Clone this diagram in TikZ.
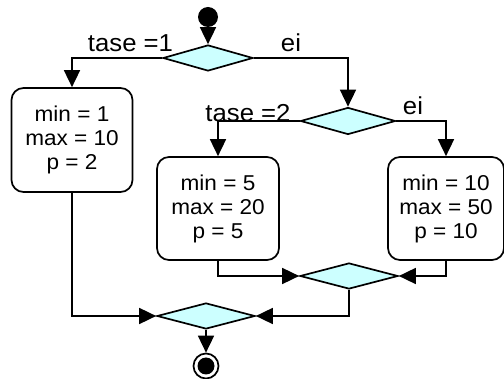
\documentclass[tikz,border=0pt]{standalone}
\usepackage{fontspec}
\setmainfont[FakeStretch=1.05]{Liberation Sans}
\usetikzlibrary{shapes.geometric,arrows.meta}
\definecolor{dcyan}{HTML}{CCFFFF}
\begin{document}
\begin{tikzpicture}[x=1pt,y=-1pt,
  line width=1.7pt,
  >={Triangle[length=17pt,width=16pt]},
  decision/.style={diamond, draw, fill=dcyan, inner sep=0pt, minimum width=#1, minimum height=26pt},
  actbox/.style={draw, rounded corners=12pt, align=center, inner sep=0pt,
     font=\fontsize{21.5pt}{24pt}\selectfont},
  lbl/.style={anchor=base, inner sep=0pt, font=\fontsize{24.5pt}{26pt}\selectfont}]
\useasboundingbox (0,0) rectangle (504,379);

\node[circle, fill=black, minimum size=20pt, inner sep=0pt] (start) at (208,17) {};
\node[decision=90pt] (d1) at (208,58) {};
\node[decision=95pt, minimum height=27pt] (d2) at (348,121) {};
\node[actbox, minimum width=121pt, minimum height=104pt] (b1) at (72,140) {min = 1\\max = 10\\p = 2};
\node[actbox, minimum width=122pt, minimum height=103pt] (b2) at (218,208.5) {min = 5\\max = 20\\p = 5};
\node[actbox, minimum width=116pt, minimum height=103pt] (b3) at (446,208.5) {min = 10\\max = 50\\p = 10};
\node[decision=98pt] (d3) at (349,276) {};
\node[decision=98pt] (d4) at (206,316) {};
\node[circle, draw, minimum size=25pt, inner sep=0pt] (end) at (206,366) {};
\node[circle, fill=black, minimum size=17pt, inner sep=0pt] (endin) at (206,366) {};

\draw[->] (start) -- (d1.north);
\draw[->] (d1.west) -| (b1.north);
\draw[->] (d1.east) -| (d2.north);
\draw[->] (d2.west) -| (b2.north);
\draw[->] (d2.east) -| (b3.north);
\draw[->] (b2.south) |- (d3.west);
\draw[->] (b3.south) |- (d3.east);
\draw[->] (b1.south) |- (d4.west);
\draw[->] (d3.south) |- (d4.east);
\draw[->] (d4.south) -- (end.north);

\node[lbl] (l1) at (130.5,52) {tase =1};
\node[lbl] (l2) at (291,52) {ei};
\node[lbl] (l3) at (248,122) {tase =2};
\node[lbl] (l4) at (413,115) {ei};
\end{tikzpicture}
\end{document}
